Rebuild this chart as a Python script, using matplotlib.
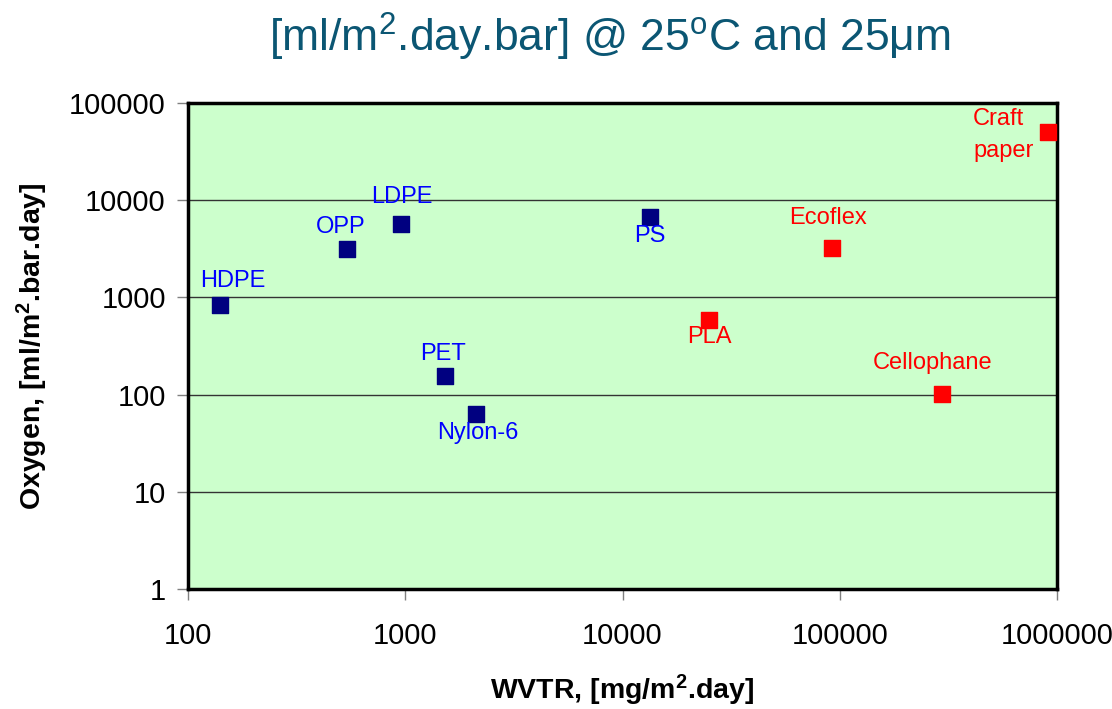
import matplotlib.pyplot as plt

plt.rcParams['font.family'] = ['Liberation Sans', 'DejaVu Sans']
plt.rcParams['mathtext.fontset'] = 'custom'
plt.rcParams['mathtext.rm'] = 'Liberation Sans'
plt.rcParams['mathtext.it'] = 'Liberation Sans:italic'
plt.rcParams['mathtext.bf'] = 'Liberation Sans:bold'

# datos
conv_names = ['HDPE', 'OPP', 'LDPE', 'PET', 'Nylon-6', 'PS']
conv_wvtr = [140, 540, 960, 1520, 2120, 13400]
conv_o2 = [840, 3170, 5700, 154, 63, 6750]

bio_names = ['PLA', 'Ecoflex', 'Cellophane', 'Craft\npaper']
bio_wvtr = [25000, 92000, 296000, 910000]
bio_o2 = [580, 3250, 102, 50000]

# desplazamiento de etiquetas en px
conv_off = [(13, 24), (-6, 22), (0, 27), (-2, 22), (2, -19), (0, -19)]
bio_off = [(0, -17), (-4, 30), (-10, 31), (-75, -3)]

fig = plt.figure(figsize=(11.12, 7.09), dpi=100)
ax = fig.add_axes([188/1112, 1-589/709, (1057-188)/1112, (589-103)/709])
ax.set_facecolor('#CCFFCC')

ax.scatter(conv_wvtr, conv_o2, marker='s', s=120, color='#000080', zorder=3, clip_on=False)
ax.scatter(bio_wvtr, bio_o2, marker='s', s=120, color='#FF0000', zorder=3, clip_on=False)

px = 72 / 100
for n, x, y, (dx, dy) in zip(conv_names, conv_wvtr, conv_o2, conv_off):
    ax.annotate(n, (x, y), xytext=(dx*px, dy*px), textcoords='offset points',
                ha='center', va='center', color='#0000FF', fontsize=17)
for n, x, y, (dx, dy) in zip(bio_names, bio_wvtr, bio_o2, bio_off):
    ha = 'left' if '\n' in n else 'center'
    ax.annotate(n, (x, y), xytext=(dx*px, dy*px), textcoords='offset points',
                ha=ha, va='center', color='#FF0000', fontsize=17, linespacing=1.6)

ax.set_xscale('log')
ax.set_yscale('log')
ax.set_xlim(100, 1000000)
ax.set_ylim(1, 100000)
ax.set_xticks([100, 1000, 10000, 100000, 1000000])
ax.set_xticklabels(['100', '1000', '10000', '100000', '1000000'])
ax.set_yticks([1, 10, 100, 1000, 10000, 100000])
ax.set_yticklabels(['1', '10', '100', '1000', '10000', '100000'])
ax.minorticks_off()
ax.tick_params(axis='both', direction='out', length=8, width=1, color='#808080',
               labelsize=21)
ax.tick_params(axis='x', pad=16)
ax.tick_params(axis='y', pad=8)
ax.yaxis.grid(True, color='#333333', linewidth=1)
ax.set_axisbelow(True)
for s in ax.spines.values():
    s.set_linewidth(2.5)
    s.set_color('black')

ax.set_xlabel('WVTR, [mg/m$^\\mathbf{2}$.day]', fontsize=20.5, fontweight='bold', labelpad=16)
ax.set_ylabel('Oxygen, [ml/m$^\\mathbf{2}$.bar.day]', fontsize=20.5, fontweight='bold', labelpad=14)

fig.text(0.548, 0.948, '[ml/m$^2$.day.bar] @ 25$^\\mathrm{o}$C and 25\u03bcm',
         ha='center', va='center', fontsize=32, color='#0B5673')

fig.savefig('out.png', dpi=100)
